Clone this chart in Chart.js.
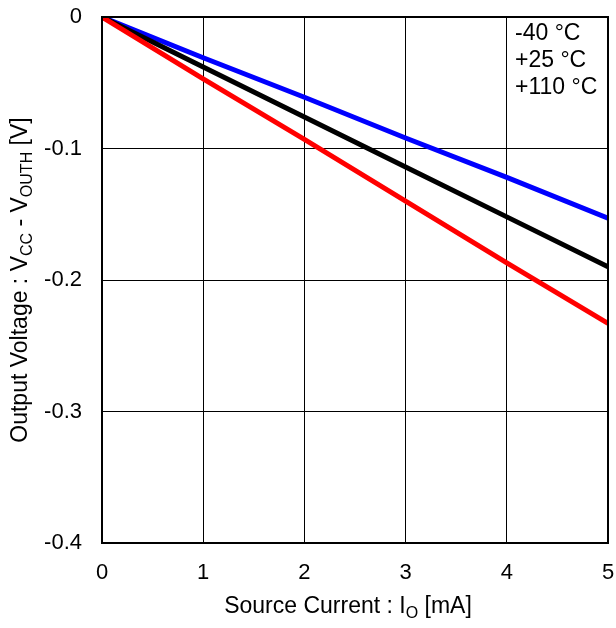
<!DOCTYPE html>
<html lang="en">
<head>
<meta charset="UTF-8" />
<title>Output Voltage vs Source Current</title>
<script src="https://cdn.jsdelivr.net/npm/chart.js"></script>
<style>
    html, body { margin: 0; padding: 0; background: #fff; }
    #wrap { width: 616px; height: 628px; }
</style>
</head>
<body>
<div id="wrap"><canvas id="chart" width="616" height="628"></canvas></div>
<script>
    // source current [mA]
    const current = [0, 1, 2, 3, 4, 5];
    // Vcc - Vouth [V] per temperature
    const vMinus40 = [0, -0.031, -0.061, -0.092, -0.122, -0.153];
    const v25 = [0, -0.038, -0.076, -0.114, -0.152, -0.190];
    const v110 = [0, -0.047, -0.093, -0.140, -0.187, -0.233];
    const tempLabels = ["-40 °C", "+25 °C", "+110 °C"];
    const xTicks = [0, 1, 2, 3, 4, 5];
    const yTicks = [0, -0.1, -0.2, -0.3, -0.4];

    const FONT = "'Liberation Sans', Arial, sans-serif";

    const pts = ys => current.map((x, i) => ({ x: x, y: ys[i] }));

    // draws text with subscript pieces, centred on (0,0) of current transform
    function richText(ctx, parts, size) {
        const subSize = Math.round(size * 0.68);
        let w = 0;
        parts.forEach(p => {
            ctx.font = (p.sub ? subSize : size) + "px " + FONT;
            p.w = ctx.measureText(p.t).width;
            w += p.w;
        });
        let x = -w / 2;
        ctx.textBaseline = "middle";
        ctx.textAlign = "left";
        parts.forEach(p => {
            ctx.font = (p.sub ? subSize : size) + "px " + FONT;
            ctx.fillText(p.t, x, p.sub ? 7 : 0);
            x += p.w;
        });
    }

    const annotations = {
        id: "annotations",
        afterDraw(chart) {
            const ctx = chart.ctx;
            const a = chart.chartArea;
            ctx.save();
            ctx.fillStyle = "#000";

            // x title
            ctx.save();
            ctx.translate(348, 607);
            richText(ctx, [{ t: "Source Current : I" }, { t: "O", sub: true }, { t: " [mA]" }], 23);
            ctx.restore();

            // y title
            ctx.save();
            ctx.translate(21, (a.top + a.bottom) / 2);
            ctx.rotate(-Math.PI / 2);
            richText(ctx, [
                { t: "Output Voltage : V" }, { t: "CC", sub: true },
                { t: " - V" }, { t: "OUTH", sub: true }, { t: " [V]" }
            ], 23);
            ctx.restore();

            // temperature labels
            ctx.font = "23px " + FONT;
            ctx.textAlign = "left";
            ctx.textBaseline = "middle";
            tempLabels.forEach((s, i) => ctx.fillText(s, a.right - 93, a.top + 17 + i * 27));

            // frame
            ctx.strokeStyle = "#000";
            ctx.lineWidth = 2;
            ctx.strokeRect(a.left, a.top, a.right - a.left, a.bottom - a.top);
            ctx.restore();
        }
    };

    new Chart(document.getElementById("chart"), {
        type: "scatter",
        data: {
            datasets: [
                { label: tempLabels[2], data: pts(v110), borderColor: "#ff0000" },
                { label: tempLabels[1], data: pts(v25), borderColor: "#000000" },
                { label: tempLabels[0], data: pts(vMinus40), borderColor: "#0000ff" }
            ].map(d => Object.assign(d, {
                showLine: true, borderWidth: 5, pointRadius: 0, pointHoverRadius: 0,
                tension: 0, borderCapStyle: "butt"
            }))
        },
        options: {
            responsive: false,
            animation: false,
            layout: { padding: { top: 17, right: 8, left: 0, bottom: 0 } },
            plugins: { legend: { display: false }, tooltip: { enabled: false } },
            scales: {
                x: {
                    type: "linear", min: 0, max: 5,
                    afterBuildTicks: s => { s.ticks = xTicks.map(v => ({ value: v })); },
                    afterFit: s => { s.height = 85; s.paddingLeft = 0; s.paddingRight = 0; },
                    grid: { color: "#000", lineWidth: 1, drawTicks: false },
                    border: { display: false },
                    ticks: { color: "#000", padding: 17, font: { family: FONT, size: 22 }, maxRotation: 0 }
                },
                y: {
                    type: "linear", min: -0.4, max: 0,
                    afterBuildTicks: s => { s.ticks = yTicks.map(v => ({ value: v })); },
                    afterFit: s => { s.width = 102; s.paddingTop = 0; s.paddingBottom = 0; },
                    grid: { color: "#000", lineWidth: 1, drawTicks: false },
                    border: { display: false },
                    ticks: {
                        color: "#000", padding: 20, font: { family: FONT, size: 22 },
                        callback: v => (v === 0 ? "0" : v.toFixed(1))
                    }
                }
            }
        },
        plugins: [annotations]
    });
</script>
</body>
</html>
